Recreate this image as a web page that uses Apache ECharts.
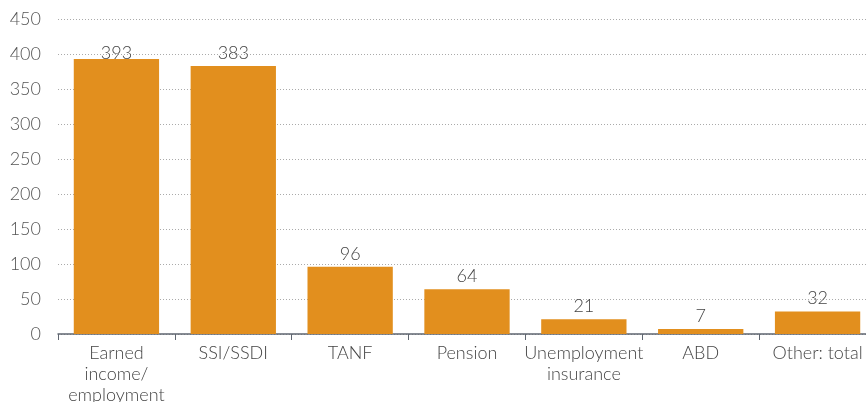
<!DOCTYPE html>
<html>
<head>
<meta charset="utf-8">
<style>
  html, body { margin: 0; padding: 0; background: #fff; }
  #chart { width: 866px; height: 402px; }
</style>
<script src="https://cdn.jsdelivr.net/npm/echarts@6/dist/echarts.min.js"></script>
</head>
<body>
<div id="chart"></div>
<script>
  // data
  var categories = ['Earned\nincome/\nemployment', 'SSI/SSDI', 'TANF', 'Pension', 'Unemployment\ninsurance', 'ABD', 'Other: total']
  var values = [393, 383, 96, 64, 21, 7, 32]
  var yTicks = [0, 50, 100, 150, 200, 250, 300, 350, 400, 450]

  var chart = echarts.init(document.getElementById('chart'))

  // labels near the top of the plot sit lower (pushed down onto the bar)
  var barData = values.map(function (v) {
    if (v > 390) {
      return { value: v, label: { distance: -3 } }
    }
    return v
  })

  var option = {
    animation: false,
    grid: {
      left: 58,
      right: -10,
      top: 19,
      bottom: 68,
      containLabel: false,
      outerBoundsMode: 'none'
    },
    xAxis: {
      type: 'category',
      data: categories,
      axisLine: {
        lineStyle: { color: '#5f6670', width: 1.5 }
      },
      axisTick: {
        show: true,
        length: 6,
        lineStyle: { color: '#5f6670' }
      },
      axisLabel: {
        color: '#444',
        fontFamily: 'Lato',
        fontWeight: 300,
        fontSize: 18,
        lineHeight: 21,
        margin: 9,
        interval: 0
      }
    },
    yAxis: {
      type: 'value',
      min: yTicks[0],
      max: yTicks[yTicks.length - 1],
      interval: 50,
      axisLine: { show: false },
      axisTick: { show: false },
      axisLabel: {
        color: '#555',
        fontFamily: 'Lato',
        fontWeight: 300,
        fontSize: 18,
        margin: 17
      },
      splitLine: {
        lineStyle: { color: '#aaa', type: [1, 2], width: 1 }
      }
    },
    series: [{
      type: 'bar',
      data: barData,
      barCategoryGap: '27%',
      itemStyle: { color: '#e28f1e' },
      label: {
        show: true,
        position: 'top',
        distance: 4,
        color: '#444',
        fontFamily: 'Lato',
        fontWeight: 300,
        fontSize: 18
      }
    }]
  }
  chart.setOption(option)
</script>
</body>
</html>
